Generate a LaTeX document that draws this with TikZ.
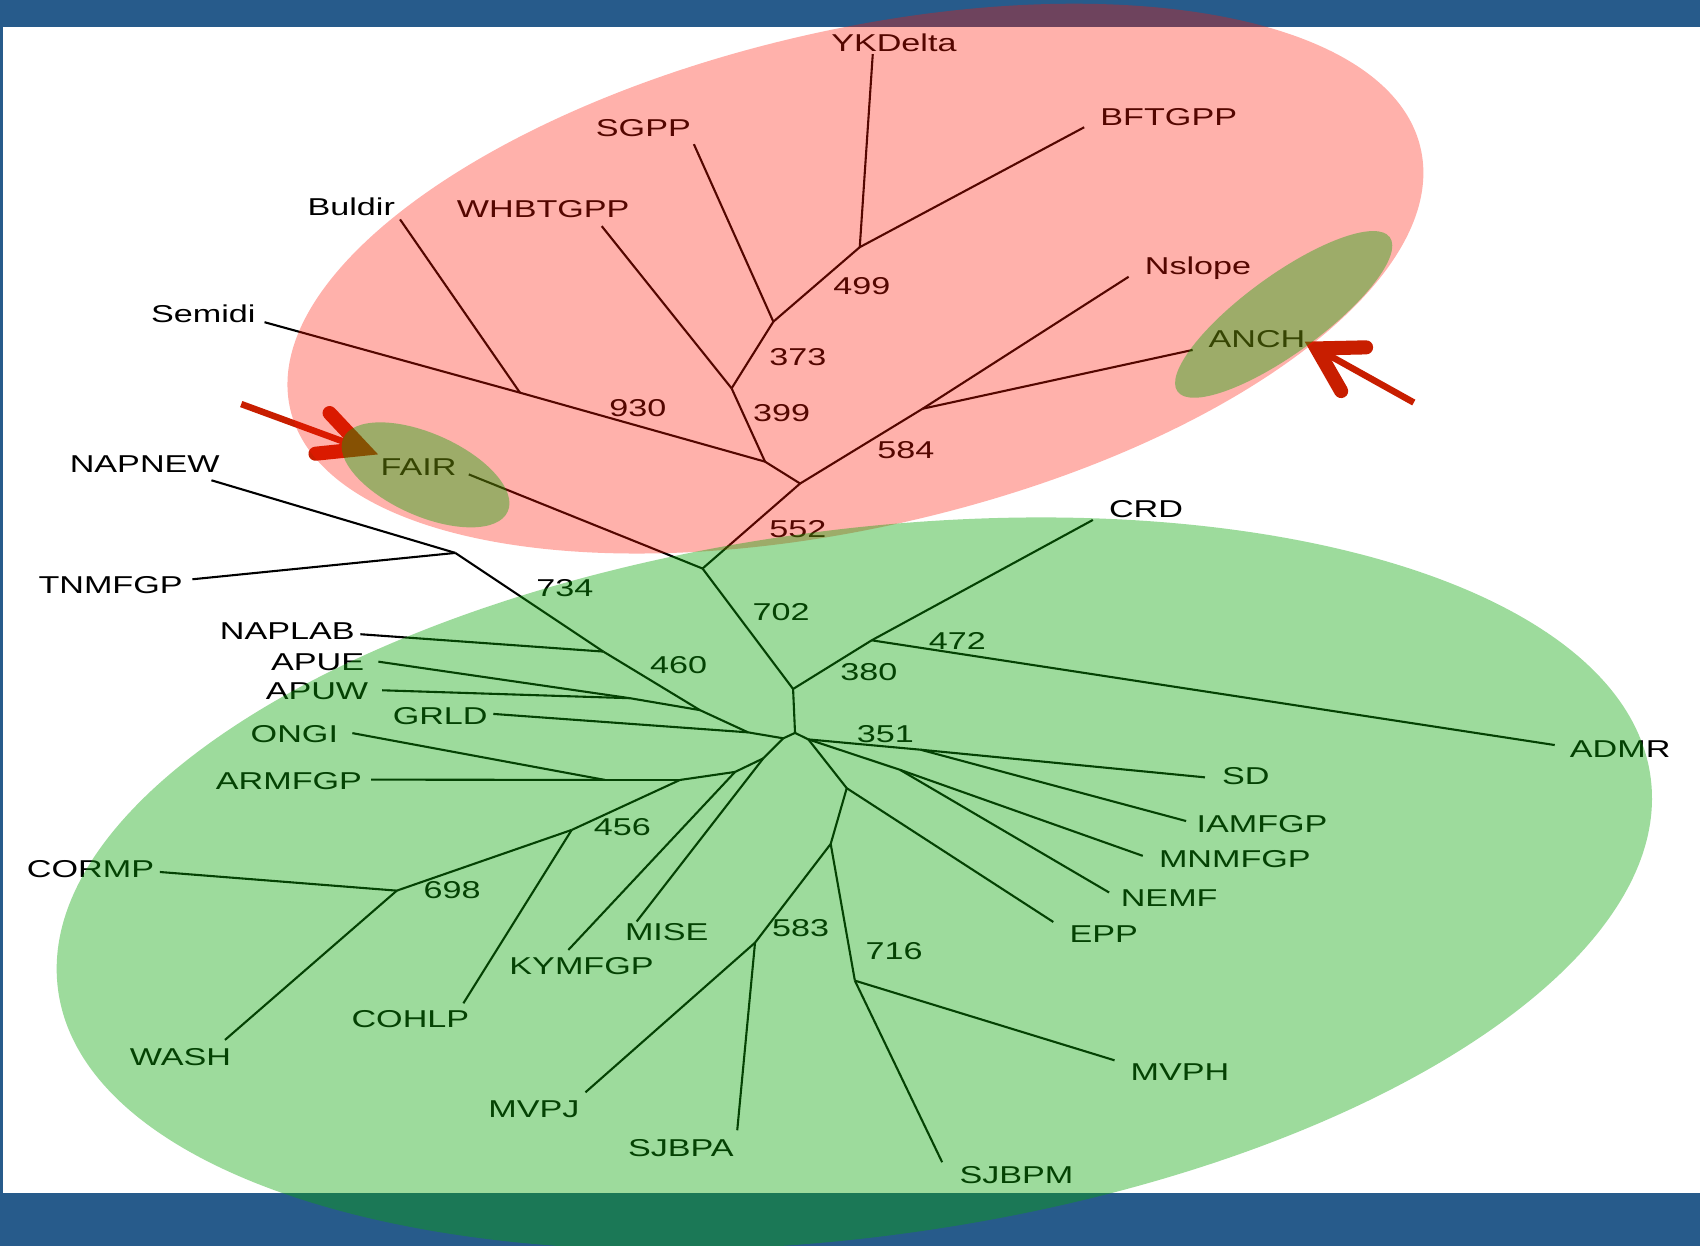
\documentclass[tikz,border=0pt]{standalone}
\usepackage{fontspec}
\setmainfont{Liberation Sans}[FakeStretch=1.4]
\usepackage{tikz}
\definecolor{bandBlue}{HTML}{275B8B}
\definecolor{cladeRed}{HTML}{FF1400}
\definecolor{cladeGreen}{HTML}{0AA508}
\definecolor{markRed}{HTML}{C81E00}

\begin{document}
\begin{tikzpicture}[x=0.1mm,y=-0.1mm,
  br/.style={line width=0.55pt,black},
  lbl/.style={inner sep=0pt,text height=4.6pt,text depth=0pt,font=\fontsize{6.4}{7}\selectfont},
  redblob/.style={fill=cladeRed,fill opacity=0.33},
  greenblob/.style={fill=cladeGreen,fill opacity=0.4},
  markshaft/.style={draw=markRed,line width=0.6mm},
  markhead/.style={draw=markRed,line width=1.3mm,line cap=round,line join=miter}]
\useasboundingbox (0,0) rectangle (1568,1149);
\fill[white] (0,0) rectangle (1568,1149);
\fill[bandBlue] (0,0) rectangle (1568,24.6);
\fill[bandBlue] (0,1100) rectangle (1568,1149);
\fill[bandBlue] (0,0) rectangle (2.5,1149);

\coordinate (j552) at (648,524.4); \coordinate (ja) at (738,446); \coordinate (jb) at (705.6,425.8);
\coordinate (jbul) at (479.6,362.2); \coordinate (j399) at (674.8,358.2); \coordinate (j373) at (713.3,296.7);
\coordinate (j499) at (793,228); \coordinate (j584) at (851,377);
\coordinate (eyk) at (805,50); \coordinate (ebf) at (1000,117.4); \coordinate (esg) at (640,133);
\coordinate (ewh) at (555,208.6); \coordinate (ebu) at (369,202.4); \coordinate (ese) at (244,297.2);
\coordinate (ens) at (1041,255.3); \coordinate (ean) at (1100,322.8); \coordinate (efa) at (432.4,437.6);

\coordinate (j702) at (731.5,635.5); \coordinate (hub) at (733.3,676); \coordinate (j380) at (804,590.6);
\coordinate (ecrd) at (1008,479.6); \coordinate (eadmr) at (1434,687.2);
\coordinate (jg) at (722.5,681); \coordinate (jgr) at (690,675.5); \coordinate (japu) at (645.6,655);
\coordinate (jape) at (581,644); \coordinate (jnap) at (556.5,601); \coordinate (jtn) at (420,510);
\coordinate (enapnew) at (195,443); \coordinate (etn) at (177.5,534.3); \coordinate (enaplab) at (332.4,585);
\coordinate (eapue) at (349,610.3); \coordinate (eapuw) at (352.4,636.7); \coordinate (egrld) at (455,658.5);
\coordinate (jmise) at (704,699.5); \coordinate (jky) at (678,712); \coordinate (j456) at (627.2,719.4);
\coordinate (jon) at (558,719.4); \coordinate (eongi) at (325,676.2); \coordinate (earm) at (342.4,719.1);
\coordinate (jco) at (527.3,765.5); \coordinate (j698) at (366,821.5); \coordinate (ecor) at (147.5,804.3);
\coordinate (ewash) at (207.5,959.2); \coordinate (ecoh) at (427.4,925.4); \coordinate (eky) at (524.2,876.2);
\coordinate (emise) at (587.2,850);
\coordinate (jr) at (745.6,682); \coordinate (j351) at (849,691.5); \coordinate (esd) at (1111.4,717);
\coordinate (eiam) at (1094,757.3); \coordinate (jmn) at (830,710); \coordinate (emn) at (1054,789.4);
\coordinate (ene) at (1023,823.2); \coordinate (jep) at (781,727); \coordinate (eepp) at (971.5,850.4);
\coordinate (j716t) at (766.2,778.4); \coordinate (j583) at (696.4,869.5); \coordinate (emvpj) at (540,1007.5);
\coordinate (esjbpa) at (680,1042.5); \coordinate (j716) at (788.5,904.5); \coordinate (emvph) at (1028,978);
\coordinate (esjbpm) at (869,1072);

\draw[br] (j552)--(efa); \draw[br] (j552)--(ja); \draw[br] (ja)--(jb); \draw[br] (jb)--(jbul);
\draw[br] (jbul)--(ese); \draw[br] (jbul)--(ebu); \draw[br] (jb)--(j399); \draw[br] (j399)--(ewh);
\draw[br] (j399)--(j373); \draw[br] (j373)--(esg); \draw[br] (j373)--(j499); \draw[br] (j499)--(eyk);
\draw[br] (j499)--(ebf); \draw[br] (ja)--(j584); \draw[br] (j584)--(ens); \draw[br] (j584)--(ean);
\draw[br] (j552)--(j702); \draw[br] (j702)--(hub); \draw[br] (j702)--(j380); \draw[br] (j380)--(ecrd);
\draw[br] (j380)--(eadmr); \draw[br] (hub)--(jg); \draw[br] (jg)--(jgr); \draw[br] (jgr)--(egrld);
\draw[br] (jgr)--(japu); \draw[br] (japu)--(jape); \draw[br] (jape)--(eapue); \draw[br] (jape)--(eapuw);
\draw[br] (japu)--(jnap); \draw[br] (jnap)--(enaplab); \draw[br] (jnap)--(jtn); \draw[br] (jtn)--(enapnew);
\draw[br] (jtn)--(etn); \draw[br] (jg)--(jmise); \draw[br] (jmise)--(emise); \draw[br] (jmise)--(jky);
\draw[br] (jky)--(eky); \draw[br] (jky)--(j456); \draw[br] (j456)--(jon); \draw[br] (jon)--(eongi);
\draw[br] (jon)--(earm); \draw[br] (j456)--(jco); \draw[br] (jco)--(ecoh); \draw[br] (jco)--(j698);
\draw[br] (j698)--(ecor); \draw[br] (j698)--(ewash);
\draw[br] (hub)--(jr); \draw[br] (jr)--(j351); \draw[br] (j351)--(esd); \draw[br] (j351)--(eiam);
\draw[br] (jr)--(jmn); \draw[br] (jmn)--(emn); \draw[br] (jmn)--(ene); \draw[br] (jr)--(jep);
\draw[br] (jep)--(eepp); \draw[br] (jep)--(j716t); \draw[br] (j716t)--(j583); \draw[br] (j583)--(emvpj);
\draw[br] (j583)--(esjbpa); \draw[br] (j716t)--(j716); \draw[br] (j716)--(emvph); \draw[br] (j716)--(esjbpm);

\node[lbl] (ykdelta) at (824.5,39) {YKDelta}; \node[lbl] (bftgpp) at (1078,108) {BFTGPP};
\node[lbl] (sgpp) at (593.4,117.4) {SGPP}; \node[lbl] (whbtgpp) at (501,192.2) {WHBTGPP};
\node[lbl] (buldir) at (324,190.4) {Buldir}; \node[lbl] (semidi) at (187.5,289.2) {Semidi};
\node[lbl] (nslope) at (1105,245) {Nslope}; \node[lbl] (anch) at (1159.4,312.2) {ANCH};
\node[lbl] (fair) at (386,430.4) {FAIR}; \node[lbl] (napnew) at (133.5,427.4) {NAPNEW};
\node[lbl] (tnmfgp) at (102,539) {TNMFGP}; \node[lbl] (crd) at (1057,469.7) {CRD};
\node[lbl] (naplab) at (265,581.8) {NAPLAB}; \node[lbl] (apue) at (293,610.3) {APUE};
\node[lbl] (apuw) at (292.4,636.7) {APUW}; \node[lbl] (grld) at (406,660) {GRLD};
\node[lbl] (ongi) at (271.5,676.6) {ONGI}; \node[lbl] (armfgp) at (266.5,720.5) {ARMFGP};
\node[lbl] (cormp) at (83.5,801.7) {CORMP}; \node[lbl] (mise) at (615,859.6) {MISE};
\node[lbl] (kymfgp) at (536.4,890.3) {KYMFGP}; \node[lbl] (cohlp) at (378.5,940) {COHLP};
\node[lbl] (wash) at (166.5,975) {WASH}; \node[lbl] (mvpj) at (492.4,1022.4) {MVPJ};
\node[lbl] (sjbpa) at (628,1058.8) {SJBPA}; \node[lbl] (sjbpm) at (937.5,1083.7) {SJBPM};
\node[lbl] (mvph) at (1088.4,988.6) {MVPH}; \node[lbl] (epp) at (1018,861.4) {EPP};
\node[lbl] (nemf) at (1078.4,828) {NEMF}; \node[lbl] (mnmfgp) at (1139,792.5) {MNMFGP};
\node[lbl] (iamfgp) at (1164,759.6) {IAMFGP}; \node[lbl] (sd) at (1149,715.3) {SD};
\node[lbl] (admr) at (1494.4,690.6) {ADMR};

\node[lbl] (b930) at (588.4,375.7) {930}; \node[lbl] (b399) at (721,380.4) {399};
\node[lbl] (b373) at (736,329) {373}; \node[lbl] (b499) at (795,263.5) {499};
\node[lbl] (b584) at (835.5,415) {584}; \node[lbl] (b552) at (736,487.6) {552};
\node[lbl] (b734) at (521,542.3) {734}; \node[lbl] (b702) at (720.4,564.7) {702};
\node[lbl] (b460) at (626,613) {460}; \node[lbl] (b380) at (801.5,619.2) {380};
\node[lbl] (b472) at (883,590.6) {472}; \node[lbl] (b351) at (816.6,676.7) {351};
\node[lbl] (b456) at (574,762.6) {456}; \node[lbl] (b698) at (417,821) {698};
\node[lbl] (b583) at (738.4,855.7) {583}; \node[lbl] (b716) at (824.6,877.2) {716};

\coordinate (a1s) at (222.5,372.7); \coordinate (a1v) at (335,414); \coordinate (a1u) at (304,381); \coordinate (a1l) at (291,418.5);
\coordinate (a2s) at (1304,371.3); \coordinate (a2v) at (1214.5,321.4); \coordinate (a2u) at (1260,320.4); \coordinate (a2l) at (1237,360.7);
\draw[markshaft] (a1s)--(a1v); \draw[markhead] (a1u)--(a1v)--(a1l);
\draw[markshaft] (a2s)--(a2v); \draw[markhead] (a2u)--(a2v)--(a2l);

\fill[redblob,rotate around={13:(789,257)}] (789,257) ellipse [x radius=53.5mm,y radius=22.9mm];
\fill[greenblob,rotate around={7.6:(788,815)}] (788,815) ellipse [x radius=74.1mm,y radius=32.6mm];
\fill[greenblob,rotate around={-24:(392.5,438)}] (392.5,438) ellipse [x radius=8.3mm,y radius=3.8mm];
\fill[greenblob,rotate around={36:(1184,290)}] (1184,290) ellipse [x radius=12.1mm,y radius=3.6mm];
\end{tikzpicture}
\end{document}
